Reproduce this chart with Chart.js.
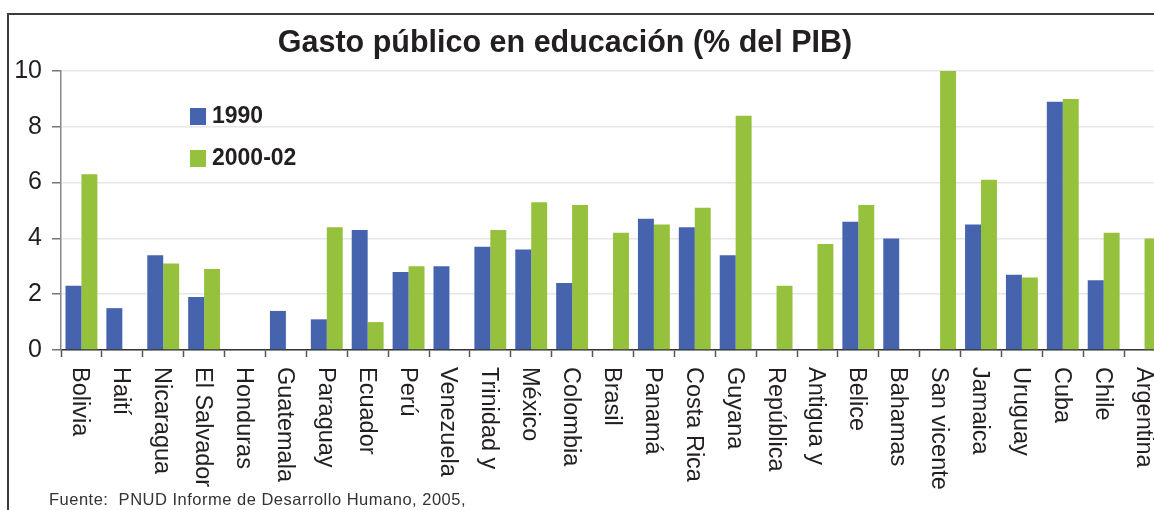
<!DOCTYPE html>
<html>
<head>
<meta charset="utf-8">
<script src="https://cdn.jsdelivr.net/npm/chart.js@4.4.1/dist/chart.umd.min.js"></script>
<style>
  html, body { margin: 0; padding: 0; background: #fff; width: 1154px; height: 510px; overflow: hidden; }
  #frame { position: absolute; left: 7px; top: 13px; width: 1200px; height: 560px; border: 2px solid #3c3c3c; box-sizing: border-box; }
  #gasto { position: absolute; left: 0; top: 0; }
</style>
</head>
<body>
<div id="frame"></div>
<canvas id="gasto" width="1168" height="510"></canvas>
<script>
// ===============================
// DATA
// ===============================
const categories = [
  "Bolivia", "Haití", "Nicaragua", "El Salvador", "Honduras", "Guatemala",
  "Paraguay", "Ecuador", "Perú", "Venezuela", "Trinidad y", "México",
  "Colombia", "Brasil", "Panamá", "Costa Rica", "Guyana", "República",
  "Antigua y", "Belice", "Bahamas", "San vicente", "Jamaica", "Uruguay",
  "Cuba", "Chile", "Argentina"
];
const gasto1990 = [2.3, 1.5, 3.4, 1.9, null, 1.4, 1.1, 4.3, 2.8, 3.0, 3.7, 3.6, 2.4, null,
  4.7, 4.4, 3.4, null, null, 4.6, 4.0, null, 4.5, 2.7, 8.9, 2.5, null];
const gasto2000 = [6.3, null, 3.1, 2.9, null, null, 4.4, 1.0, 3.0, null, 4.3, 5.3, 5.2, 4.2,
  4.5, 5.1, 8.4, 2.3, 3.8, 5.2, null, 10.0, 6.1, 2.6, 9.0, 4.2, 4.0];
const seriesNames = ["1990", "2000-02"];
const yTicks = [0, 2, 4, 6, 8, 10];

const titleText = "Gasto público en educación (% del PIB)";
const sourceText = "Fuente:  PNUD Informe de Desarrollo Humano, 2005,";

const BLUE = "#4664ad";
const GREEN = "#95c13d";
const FONT = "'Liberation Sans', Arial, sans-serif";

// ===============================
// EXTRA TEXT (title, legend, rotated labels, source)
// ===============================
const decorPlugin = {
  id: "decor",
  afterDraw(chart) {
    const ctx = chart.ctx;
    const x = chart.scales.x;
    ctx.save();

    // title
    ctx.fillStyle = "#231f20";
    ctx.font = "bold 30.5px " + FONT;
    ctx.textAlign = "center";
    ctx.textBaseline = "middle";
    ctx.fillText(titleText, 565, 44);

    // legend
    ctx.font = "bold 23px " + FONT;
    ctx.textAlign = "left";
    chart.data.datasets.forEach((ds, i) => {
      const y = 116 + i * 42;
      ctx.fillStyle = ds.backgroundColor;
      ctx.fillRect(190, y - 8, 16, 17);
      ctx.fillStyle = "#231f20";
      ctx.fillText(ds.label, 212, y + 1);
    });

    // category labels, turned clockwise
    ctx.font = "23.5px " + FONT;
    ctx.fillStyle = "#231f20";
    ctx.textAlign = "left";
    ctx.textBaseline = "middle";
    chart.data.labels.forEach((lab, i) => {
      const px = x.getPixelForValue(i);
      ctx.save();
      ctx.translate(px - 1.5, 367);
      ctx.rotate(Math.PI / 2);
      ctx.fillText(lab, 0, 0);
      ctx.restore();
    });

    // source
    ctx.font = "16.5px " + FONT;
    ctx.fillStyle = "#333";
    ctx.textBaseline = "alphabetic";
    ctx.letterSpacing = "0.5px";
    ctx.fillText(sourceText, 49, 505);

    ctx.restore();
  }
};

// ===============================
// CHART
// ===============================
new Chart(document.getElementById("gasto"), {
  type: "bar",
  data: {
    labels: categories,
    datasets: [
      { label: seriesNames[0], data: gasto1990, backgroundColor: BLUE },
      { label: seriesNames[1], data: gasto2000, backgroundColor: GREEN }
    ]
  },
  options: {
    responsive: false,
    animation: false,
    categoryPercentage: 0.78,
    barPercentage: 1,
    layout: { padding: { top: 71, left: 0, right: 3, bottom: 153 } },
    plugins: {
      legend: { display: false },
      title: { display: false },
      tooltip: { enabled: false }
    },
    scales: {
      x: {
        ticks: { display: false },
        grid: {
          offset: true,
          drawOnChartArea: false,
          drawTicks: true,
          tickLength: 7,
          tickColor: "#555",
          tickWidth: 1.5
        },
        border: { color: "#333", width: 1.5 }
      },
      y: {
        min: 0,
        max: 10,
        afterBuildTicks: s => { s.ticks = yTicks.map(v => ({ value: v })); },
        afterFit: s => { s.width = 61; },
        ticks: {
          color: "#231f20",
          padding: 10,
          font: { family: FONT, size: 25 }
        },
        grid: {
          color: "#e6e6e6",
          lineWidth: 1.5,
          tickColor: "#777",
          tickLength: 9
        },
        border: { color: "#888", width: 1.5 }
      }
    }
  },
  plugins: [decorPlugin]
});
</script>
</body>
</html>
